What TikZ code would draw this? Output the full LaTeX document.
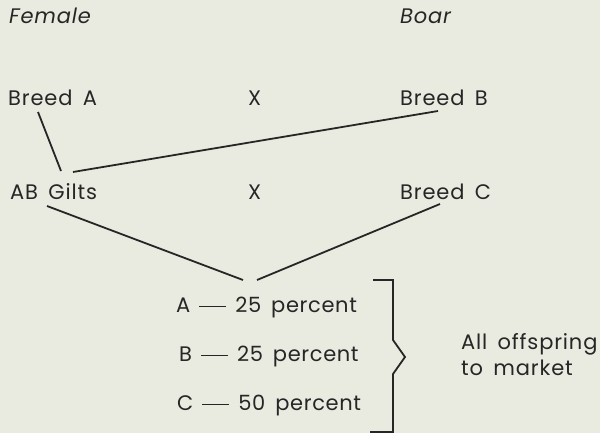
\documentclass[tikz,border=0pt]{standalone}
\usepackage{fontspec}
\setmainfont{Poppins}[LetterSpace=4,WordSpace=1.6]
\definecolor{bg}{HTML}{EAEBE0}
\definecolor{ink}{HTML}{262626}
\newcommand{\longdash}{\rule[0.27em]{27pt}{1.2pt}}
\begin{document}
\begin{tikzpicture}[x=1pt,y=-1pt,
  lbl/.style={text=ink,font=\fontsize{21}{26}\selectfont,inner sep=0pt,anchor=west},
  pct/.style={lbl,font=\fontsize{21}{26}\selectfont\addfontfeatures{LetterSpace=3}},
  ital/.style={lbl,font=\fontsize{21}{26}\selectfont\itshape},
  ln/.style={draw=ink,line width=1.8pt}]
\fill[bg] (0,0) rectangle (600,433);
\useasboundingbox (0,0) rectangle (600,433);
\node[ital] (female) at (9,16) {Female};
\node[ital] (boar) at (400,16) {Boar};
\node[lbl] (ba) at (8,98) {Breed A};
\node[lbl] (x1) at (248,98) {X};
\node[lbl] (bb) at (400,98) {Breed B};
\node[lbl] (ab) at (10,192) {AB Gilts};
\node[lbl] (x2) at (248,192) {X};
\node[lbl] (bc) at (400,192) {Breed C};
\node[pct] (pa) at (176,308) {A\hspace{9pt}\longdash\hspace{9pt}25 percent};
\node[pct] (pb) at (179,357) {B\hspace{9pt}\longdash\hspace{9pt}25 percent};
\node[pct] (pc) at (177,406) {C\hspace{9pt}\longdash\hspace{9pt}50 percent};
\node[lbl,align=left] (mk) at (461,355) {All offspring\\to market};
\coordinate (m1) at (243,280);
\coordinate (m2) at (257,280);
\draw[ln] (38,112) -- (61,171);
\draw[ln] (73,172) -- (438,111);
\draw[ln] (47,206) -- (m1);
\draw[ln] (440,204) -- (m2);
\draw[ln] (373,280) -- (393,280) -- (393,340) -- (405,357) -- (393,374) -- (393,432) -- (370,432);
\end{tikzpicture}
\end{document}
